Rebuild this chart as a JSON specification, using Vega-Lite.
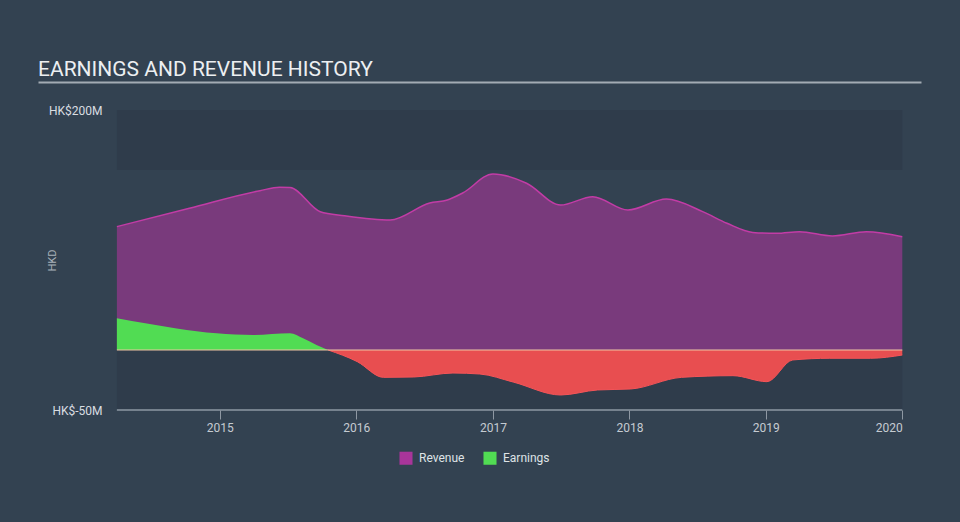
{
  "$schema": "https://vega.github.io/schema/vega-lite/v6.json",
  "width": 883,
  "height": 300,
  "autosize": {"type": "none"},
  "padding": {"left": 38, "top": 110, "right": 39, "bottom": 112},
  "background": "#334251",
  "config": {"view": {"stroke": null}, "font": "Roboto"},
  "title": {"text": "EARNINGS AND REVENUE HISTORY", "anchor": "start", "frame": "group", "fontSize": 21, "fontWeight": "normal", "color": "#eceff1", "font": "Roboto", "offset": -15, "baseline": "alphabetic"},
  "datasets": {
    "revenue": [
      {"date": "2014-04-01", "value": 102.8},
      {"date": "2014-10-12", "value": 118.1},
      {"date": "2015-04-19", "value": 132.8},
      {"date": "2015-06-10", "value": 135.6},
      {"date": "2015-07-08", "value": 135.4},
      {"date": "2015-09-27", "value": 115.2},
      {"date": "2015-12-01", "value": 111.9},
      {"date": "2016-04-01", "value": 108.3},
      {"date": "2016-07-16", "value": 122.5},
      {"date": "2016-09-01", "value": 125},
      {"date": "2016-10-12", "value": 130.8},
      {"date": "2017-01-01", "value": 146.7},
      {"date": "2017-04-01", "value": 139},
      {"date": "2017-07-01", "value": 120.8},
      {"date": "2017-09-25", "value": 127.8},
      {"date": "2017-12-28", "value": 116.7},
      {"date": "2018-04-10", "value": 125.8},
      {"date": "2018-07-16", "value": 115.3},
      {"date": "2018-09-19", "value": 105.6},
      {"date": "2018-11-27", "value": 98},
      {"date": "2019-01-30", "value": 97.2},
      {"date": "2019-04-01", "value": 98.6},
      {"date": "2019-06-28", "value": 95},
      {"date": "2019-09-27", "value": 98.6},
      {"date": "2020-01-01", "value": 94.4}
    ],
    "earnings": [
      {"date": "2014-04-01", "value": 26.4},
      {"date": "2014-09-08", "value": 18},
      {"date": "2014-12-24", "value": 13.9},
      {"date": "2015-04-01", "value": 12.5},
      {"date": "2015-07-08", "value": 13.9},
      {"date": "2015-08-12", "value": 9.7},
      {"date": "2015-09-17", "value": 4.2},
      {"date": "2015-10-18", "value": 0},
      {"date": "2016-01-04", "value": -9.7},
      {"date": "2016-03-14", "value": -22.8},
      {"date": "2016-06-03", "value": -22.5},
      {"date": "2016-09-16", "value": -19.2},
      {"date": "2016-11-27", "value": -20},
      {"date": "2017-02-24", "value": -26.7},
      {"date": "2017-07-01", "value": -37.5},
      {"date": "2017-10-08", "value": -33.3},
      {"date": "2018-01-04", "value": -32.5},
      {"date": "2018-05-20", "value": -22.8},
      {"date": "2018-10-05", "value": -21.4},
      {"date": "2019-01-04", "value": -26.4},
      {"date": "2019-03-14", "value": -8.3},
      {"date": "2019-06-21", "value": -6.9},
      {"date": "2019-10-08", "value": -6.9},
      {"date": "2020-01-01", "value": -4.2}
    ],
    "bands": [
      {"start": "2014-04-01", "end": "2020-01-01", "lo": 150, "hi": 200},
      {"start": "2014-04-01", "end": "2020-01-01", "lo": -50, "hi": 0}
    ],
    "span": [
      {"start": "2014-04-01", "end": "2020-01-01"}
    ]
  },
  "layer": [
    {
      "data": {"name": "bands"},
      "mark": {"type": "rect", "color": "#2f3c4b"},
      "encoding": {
        "x": {"field": "start", "type": "temporal", "scale": {"type": "utc", "domain": [{"year": 2013, "month": 9, "date": 2, "utc": true}, {"year": 2020, "month": 2, "date": 20, "utc": true}]},
          "axis": {"orient": "top", "offset": 28, "domain": true, "domainColor": "#a3abb4", "domainWidth": 2, "ticks": false, "labels": false, "grid": false, "title": null}},
        "x2": {"field": "end"},
        "y": {"field": "lo", "type": "quantitative", "scale": {"domain": [-50, 200], "nice": false},
          "axis": {"orient": "left", "values": [-50, 200], "labelExpr": "'HK$' + datum.value + 'M'", "domain": false, "ticks": false, "grid": false, "labelAlign": "right", "labelPadding": -64, "labelColor": "#d9dde1", "labelFontSize": 12, "labelFlush": false, "labelOverlap": false, "labelBound": false, "title": "HKD", "titleColor": "#aab2ba", "titleFontSize": 11, "titleFontWeight": "normal", "titleX": 14, "titleY": 150, "titleAngle": -90, "titleAlign": "center", "titleBaseline": "middle"}},
        "y2": {"field": "hi"}
      }
    },
    {
      "data": {"name": "revenue"},
      "mark": {"type": "area", "interpolate": "monotone", "fillOpacity": 0.6},
      "encoding": {
        "x": {"field": "date", "type": "temporal", "scale": {"type": "utc", "domain": [{"year": 2013, "month": 9, "date": 2, "utc": true}, {"year": 2020, "month": 2, "date": 20, "utc": true}]},
          "axis": {"orient": "bottom", "values": [{"year": 2015, "utc": true}, {"year": 2016, "utc": true}, {"year": 2017, "utc": true}, {"year": 2018, "utc": true}, {"year": 2019, "utc": true}, {"year": 2020, "utc": true}], "format": "%Y", "domain": false, "tickColor": "#8e98a3", "tickSize": 9, "labelPadding": 3, "labelColor": "#c5cbd1", "labelFontSize": 12, "labelFlush": false, "grid": false, "title": null,
            "labelAlign": {"condition": {"test": "utcyear(datum.value) == 2020", "value": "right"}, "value": "center"}}},
        "y": {"field": "value", "type": "quantitative", "scale": {"domain": [-50, 200], "nice": false}, "axis": null},
        "color": {"datum": "Revenue", "scale": {"domain": ["Revenue", "Earnings"], "range": ["#a8359a", "#51dc53"]},
          "legend": {"orient": "none", "legendX": 361, "legendY": 341, "direction": "horizontal", "title": null, "symbolType": "square", "symbolSize": 170, "symbolOpacity": 1, "symbolStrokeWidth": 0, "labelColor": "#dfe3e6", "labelFontSize": 12, "labelFont": "Roboto", "labelOffset": 6, "columnPadding": 18}}
      }
    },
    {
      "data": {"name": "revenue"},
      "mark": {"type": "line", "interpolate": "monotone", "color": "#c23ca6", "strokeWidth": 1.5},
      "encoding": {
        "x": {"field": "date", "type": "temporal", "scale": {"type": "utc", "domain": [{"year": 2013, "month": 9, "date": 2, "utc": true}, {"year": 2020, "month": 2, "date": 20, "utc": true}]}, "axis": null},
        "y": {"field": "value", "type": "quantitative", "scale": {"domain": [-50, 200], "nice": false}, "axis": null}
      }
    },
    {
      "data": {"name": "earnings"},
      "transform": [{"filter": "datum.value >= 0"}],
      "mark": {"type": "area", "interpolate": "monotone"},
      "encoding": {
        "x": {"field": "date", "type": "temporal", "scale": {"type": "utc", "domain": [{"year": 2013, "month": 9, "date": 2, "utc": true}, {"year": 2020, "month": 2, "date": 20, "utc": true}]}, "axis": null},
        "y": {"field": "value", "type": "quantitative", "scale": {"domain": [-50, 200], "nice": false}, "axis": null},
        "color": {"datum": "Earnings"}
      }
    },
    {
      "data": {"name": "earnings"},
      "transform": [{"filter": "datum.value <= 0"}],
      "mark": {"type": "area", "interpolate": "monotone", "color": "#e84e50"},
      "encoding": {
        "x": {"field": "date", "type": "temporal", "scale": {"type": "utc", "domain": [{"year": 2013, "month": 9, "date": 2, "utc": true}, {"year": 2020, "month": 2, "date": 20, "utc": true}]}, "axis": null},
        "y": {"field": "value", "type": "quantitative", "scale": {"domain": [-50, 200], "nice": false}, "axis": null}
      }
    },
    {
      "data": {"name": "earnings"},
      "transform": [{"filter": "datum.value <= 0"}],
      "mark": {"type": "line", "interpolate": "monotone", "color": "#f55458", "strokeWidth": 1},
      "encoding": {
        "x": {"field": "date", "type": "temporal", "scale": {"type": "utc", "domain": [{"year": 2013, "month": 9, "date": 2, "utc": true}, {"year": 2020, "month": 2, "date": 20, "utc": true}]}, "axis": null},
        "y": {"field": "value", "type": "quantitative", "scale": {"domain": [-50, 200], "nice": false}, "axis": null}
      }
    },
    {
      "data": {"name": "span"},
      "mark": {"type": "rule", "color": "#f0c6a4", "strokeWidth": 1},
      "encoding": {
        "x": {"field": "start", "type": "temporal", "scale": {"type": "utc", "domain": [{"year": 2013, "month": 9, "date": 2, "utc": true}, {"year": 2020, "month": 2, "date": 20, "utc": true}]}, "axis": null},
        "x2": {"field": "end"},
        "y": {"datum": 0, "type": "quantitative", "scale": {"domain": [-50, 200], "nice": false}, "axis": null}
      }
    },
    {
      "data": {"name": "span"},
      "mark": {"type": "rule", "color": "#8e98a3", "strokeWidth": 1.5},
      "encoding": {
        "x": {"field": "start", "type": "temporal", "scale": {"type": "utc", "domain": [{"year": 2013, "month": 9, "date": 2, "utc": true}, {"year": 2020, "month": 2, "date": 20, "utc": true}]}, "axis": null},
        "x2": {"field": "end"},
        "y": {"datum": -50, "type": "quantitative", "scale": {"domain": [-50, 200], "nice": false}, "axis": null}
      }
    }
  ],
  "resolve": {"axis": {"x": "independent", "y": "independent"}}
}
